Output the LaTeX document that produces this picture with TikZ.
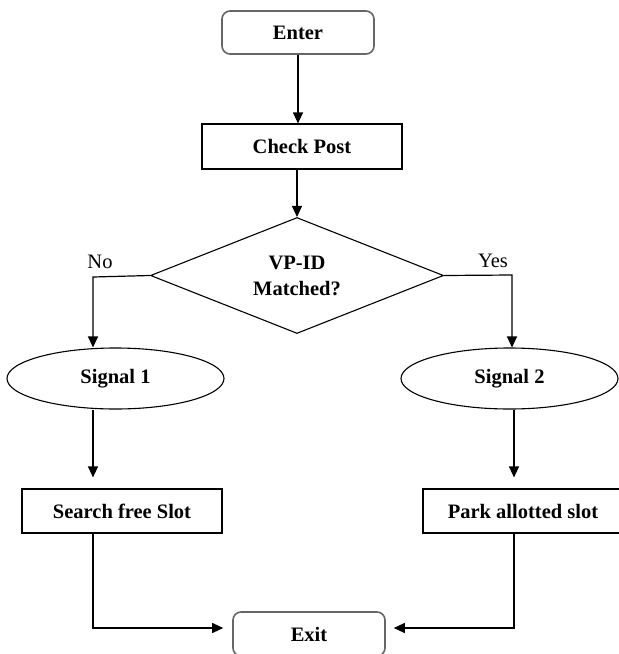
\documentclass[tikz,border=0pt]{standalone}
\usepackage{fontspec}
\setmainfont{Liberation Serif}
\usetikzlibrary{shapes.geometric,arrows.meta}
\tikzset{
  lbl/.style={font=\fontsize{20.5}{26}\selectfont, text=black},
  bl/.style={font=\fontsize{20.5}{26}\selectfont\bfseries, text=black, inner sep=0pt},
  termbox/.style={bl, draw=black!60, line width=1.6pt, rounded corners=8pt, rectangle},
  procbox/.style={bl, draw=black, line width=1.2pt, rectangle},
  decbox/.style={bl, draw=black, line width=1.1pt, diamond, aspect=2.53, align=center},
  sigbox/.style={bl, draw=black, line width=1.1pt, ellipse},
  arr/.style={draw=black, line width=1.2pt, -{Triangle[length=11pt,width=10pt]}},
  ln/.style={draw=black, line width=1.2pt}
}
\begin{document}
\begin{tikzpicture}[x=1pt,y=-1pt]
\useasboundingbox (0,0) rectangle (619,654);
\clip (0,0) rectangle (619,654);
\fill[white] (0,0) rectangle (619,654);
\node[termbox, minimum width=152pt, minimum height=43pt] (enter) at (298,32.5) {Enter};
\node[procbox, minimum width=200pt, minimum height=45pt] (check) at (302,146.5) {Check Post};
\node[decbox, minimum width=293pt, minimum height=116pt] (dia) at (297,275.5) {VP-ID\\Matched?};
\node[sigbox, minimum width=217pt, minimum height=61pt] (s1) at (115.5,378.5) {Signal 1};
\node[sigbox, minimum width=217pt, minimum height=61pt] (s2) at (509.5,378.5) {Signal 2};
\node[procbox, minimum width=200pt, minimum height=44pt] (search) at (122,511) {Search free Slot};
\node[procbox, minimum width=200pt, minimum height=44pt] (park) at (523,511) {Park allotted slot};
\node[termbox, minimum width=152pt, minimum height=44pt] (exit) at (309,634) {Exit};
\node[lbl, inner sep=0pt] (nolbl) at (100,262) {No};
\node[lbl, inner sep=0pt] (yeslbl) at (493,261) {Yes};
\coordinate (nobend) at (93,277);
\coordinate (yesbend) at (512,275);
\coordinate (lx) at (93,628);
\coordinate (rx) at (514,628);
\draw[arr] (enter.south) -- (enter.south |- check.north);
\draw[arr] (check.south -| dia.north) -- (dia.north);
\draw[arr] (dia.west) -- (nobend) -- (nobend |- s1.north);
\draw[arr] (dia.east) -- (yesbend) -- (yesbend |- s2.north);
\draw[arr] (s1.south -| nobend) -- ([yshift=11pt]search.north -| nobend);
\draw[arr] (s2.south -| rx) -- ([yshift=11pt]park.north -| rx);
\draw[arr] (search.south -| lx) -- (lx) -- ([xshift=-9pt]exit.west |- lx);
\draw[arr] (park.south -| rx) -- (rx) -- ([xshift=8pt]exit.east |- rx);
\end{tikzpicture}
\end{document}
